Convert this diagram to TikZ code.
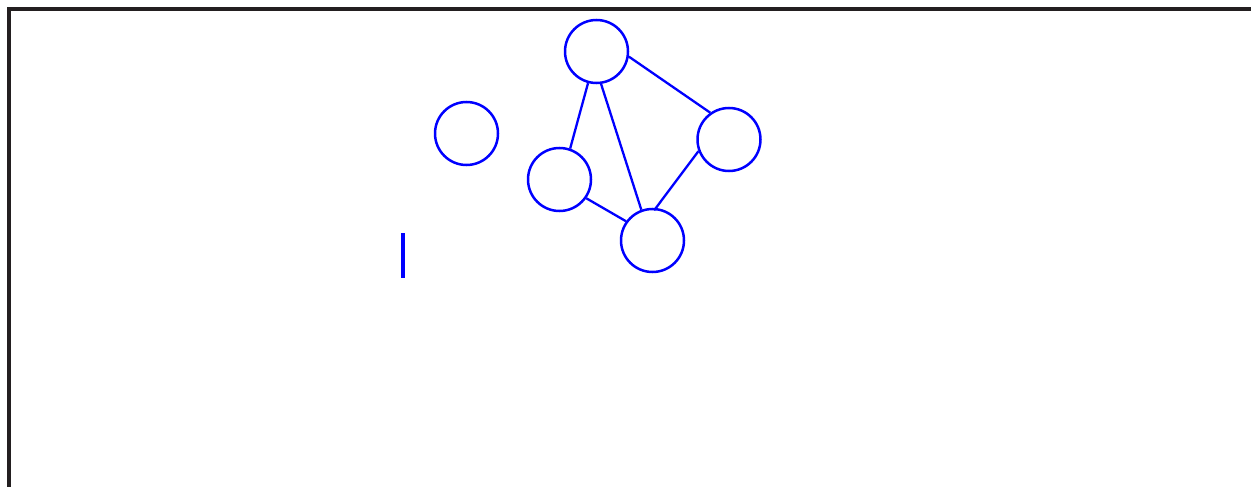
\documentclass[tikz,border=0pt]{standalone}
\definecolor{framec}{HTML}{231F20}
\definecolor{nodeblue}{HTML}{0000FF}
\tikzset{
  vertex/.style={circle, draw=nodeblue, line width=2.5pt, minimum size=63pt, inner sep=0pt},
  edge/.style={draw=nodeblue, line width=2.3pt},
}
\begin{document}
\begin{tikzpicture}[x=1pt, y=-1pt]
\useasboundingbox (0,0) rectangle (1251,487);
\draw[framec, line width=3.7pt] (9.2,487) -- (9.2,9.2) -- (1251,9.2);
\node[vertex] (top) at (596.5,51.5) {};
\node[vertex] (right) at (729,139.5) {};
\node[vertex] (mid) at (559.5,179.5) {};
\node[vertex] (bot) at (652.5,240.5) {};
\node[vertex] (iso) at (466.5,133.5) {};
\draw[edge] (top.-9.3) -- (right.125.8);
\draw[edge] (top.255.5) -- (mid.71.8);
\draw[edge] (top.278.4) -- (bot.110.8);
\draw[edge, shorten >=-3pt] (right.201.8) -- (bot.84.6);
\draw[edge] (mid.-35.4) -- (bot.144.7);
\fill[nodeblue] (401,233) rectangle (405,278);
\end{tikzpicture}
\end{document}
